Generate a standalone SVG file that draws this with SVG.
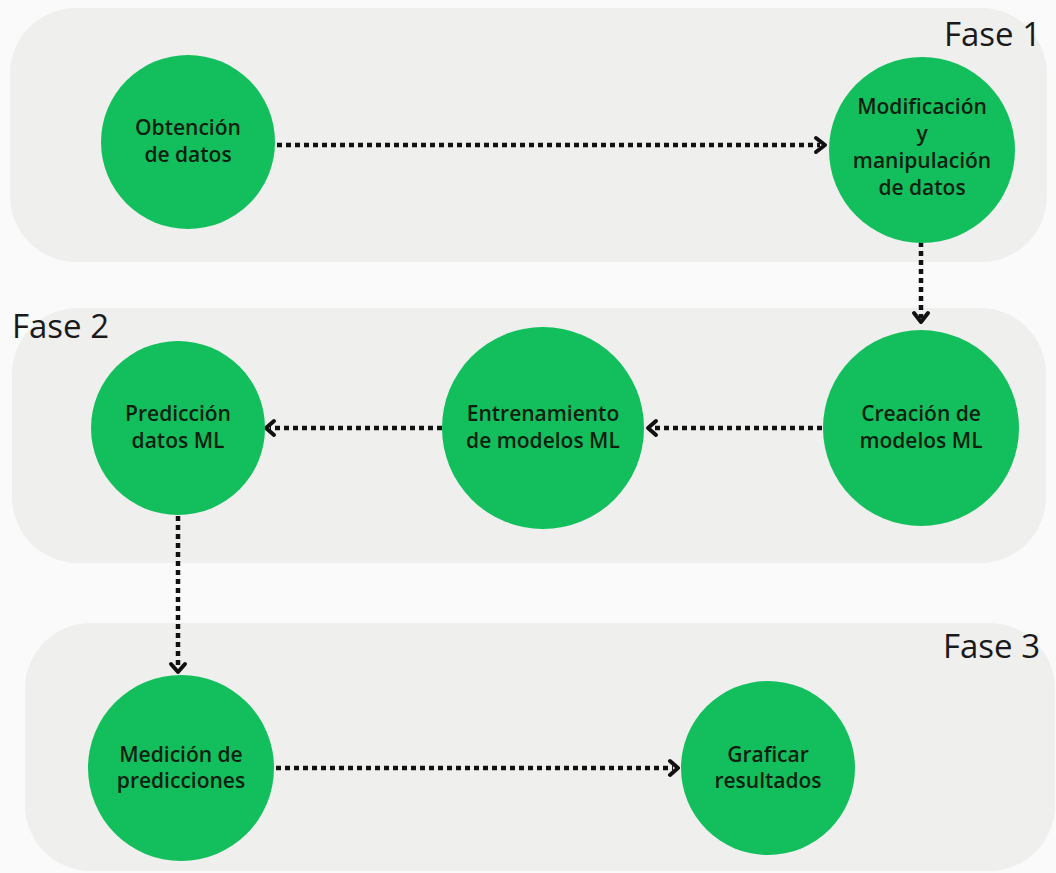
<svg xmlns="http://www.w3.org/2000/svg" width="1056" height="873" viewBox="0 0 1056 873">
<defs>
<style>
.panel{fill:#efefee}
.node{fill:#13bf5c}
.lbl{font-family:"Open Sans","Noto Sans",sans-serif;font-weight:600;font-size:21px;fill:#0b1f10;text-anchor:middle}
.phase{font-family:"Open Sans","Noto Sans",sans-serif;font-weight:400;font-size:33px;fill:#1a1a1a}
.edge{fill:none;stroke:#111;stroke-width:4.5;stroke-dasharray:5 4}
.head{fill:none;stroke:#111;stroke-width:4;stroke-linecap:round;stroke-linejoin:round}
</style>
</defs>
<rect width="1056" height="873" fill="#fafafa"/>
<g id="panels">
<rect id="fase1" class="panel" x="10" y="8" width="1037" height="254" rx="66"/>
<rect id="fase2" class="panel" x="12" y="308" width="1034" height="255" rx="66"/>
<rect id="fase3" class="panel" x="25" y="623" width="1030" height="248" rx="66"/>
<text class="phase" x="944" y="46">Fase 1</text>
<text class="phase" x="12" y="338">Fase 2</text>
<text class="phase" x="943" y="658">Fase 3</text>
</g>
<g id="connectors">
<line class="edge" x1="277" y1="145" x2="820" y2="145"/>
<polyline class="head" points="816,138 825,145 816,152"/>
<line class="edge" x1="921" y1="242" x2="921" y2="318"/>
<polyline class="head" points="914,313 921,322 928,313"/>
<line class="edge" x1="822" y1="428" x2="652" y2="428"/>
<polyline class="head" points="656,421 648,428 656,435"/>
<line class="edge" x1="442" y1="428" x2="270" y2="428"/>
<polyline class="head" points="274,421 266,428 274,435"/>
<line class="edge" x1="178" y1="516" x2="178" y2="668"/>
<polyline class="head" points="171,664 178,672 185,664"/>
<line class="edge" x1="276" y1="768" x2="673" y2="768"/>
<polyline class="head" points="670,761 678,768 670,775"/>
</g>
<g id="n1">
<circle class="node" cx="188" cy="142" r="87"/>
<text class="lbl" x="188" y="135">Obtención</text>
<text class="lbl" x="188" y="162">de datos</text>
</g>
<g id="n2">
<circle class="node" cx="922" cy="150" r="93"/>
<text class="lbl" x="922" y="114">Modificación</text>
<text class="lbl" x="922" y="141">y</text>
<text class="lbl" x="922" y="168">manipulación</text>
<text class="lbl" x="922" y="195">de datos</text>
</g>
<g id="n3">
<circle class="node" cx="921" cy="428" r="98"/>
<text class="lbl" x="921" y="421">Creación de</text>
<text class="lbl" x="921" y="448">modelos ML</text>
</g>
<g id="n4">
<circle class="node" cx="543" cy="428" r="101"/>
<text class="lbl" x="543" y="421">Entrenamiento</text>
<text class="lbl" x="543" y="448">de modelos ML</text>
</g>
<g id="n5">
<circle class="node" cx="178" cy="428" r="87"/>
<text class="lbl" x="178" y="421">Predicción</text>
<text class="lbl" x="178" y="448">datos ML</text>
</g>
<g id="n6">
<circle class="node" cx="181" cy="768" r="93"/>
<text class="lbl" x="181" y="762">Medición de</text>
<text class="lbl" x="181" y="788">predicciones</text>
</g>
<g id="n7">
<circle class="node" cx="768" cy="768" r="87"/>
<text class="lbl" x="768" y="762">Graficar</text>
<text class="lbl" x="768" y="788">resultados</text>
</g>
</svg>
